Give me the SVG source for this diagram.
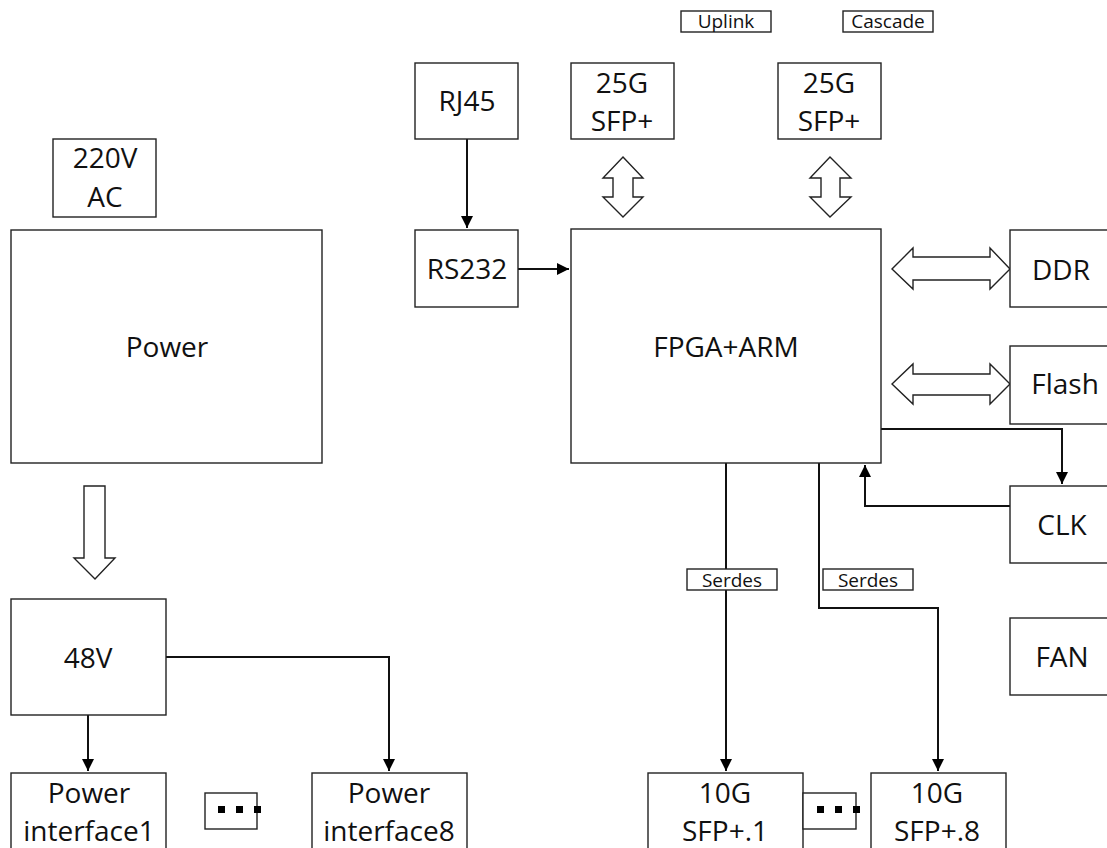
<svg xmlns="http://www.w3.org/2000/svg" width="1107" height="848" viewBox="0 0 1107 848">
<style>
.box{fill:#fff;stroke:#222;stroke-width:1.4}
.lbl{fill:#fff;stroke:#222;stroke-width:1.4}
.t{font-family:"Open Sans",Lato,sans-serif;font-size:28px;fill:#111;text-anchor:middle}
.s{font-family:"Open Sans",Lato,sans-serif;font-size:19px;fill:#111;text-anchor:middle}
.c{fill:none;stroke:#111;stroke-width:2}
.fat{fill:#fff;stroke:#222;stroke-width:1.4;stroke-linejoin:miter}
.dot{fill:#000}
</style>
<defs>
<marker id="ah" markerUnits="userSpaceOnUse" markerWidth="13" markerHeight="13" refX="12" refY="6" orient="auto">
<path d="M0,0 L12,6 L0,12 Z" fill="#000"/>
</marker>
</defs>

<g id="connectors">
<path class="c" d="M467,139 V228" marker-end="url(#ah)"/>
<path class="c" d="M518,269 H569" marker-end="url(#ah)"/>
<path class="c" d="M881,429 H1062 V484" marker-end="url(#ah)"/>
<path class="c" d="M1010,506 H865 V465" marker-end="url(#ah)"/>
<path class="c" d="M726,463 V771" marker-end="url(#ah)"/>
<path class="c" d="M819,463 V608 H938 V771" marker-end="url(#ah)"/>
<path class="c" d="M88,715 V771" marker-end="url(#ah)"/>
<path class="c" d="M166,657 H389 V771" marker-end="url(#ah)"/>
<polygon class="fat" points="623,157 643,178 633,178 633,197 643,197 623,217 603,197 613,197 613,178 603,178"/>
<polygon class="fat" points="830,157 851,178 840,178 840,197 851,197 830,217 810,197 821,197 821,178 810,178"/>
<polygon class="fat" points="892,269 913,248 913,257 990,257 990,248 1010,269 990,289 990,280 913,280 913,289"/>
<polygon class="fat" points="892,384 913,364 913,374 990,374 990,364 1010,384 990,404 990,395 913,395 913,404"/>
<polygon class="fat" points="84,486 105,486 105,558 115,558 95,579 74,558 84,558"/>
<g id="serdes1"><rect class="lbl" x="687" y="569" width="90" height="21"/><text class="s" x="732" y="587">Serdes</text></g>
<g id="serdes2"><rect class="lbl" x="823" y="569" width="90" height="21"/><text class="s" x="868" y="587">Serdes</text></g>
</g>

<g id="uplink"><rect class="lbl" x="681" y="11" width="90" height="21"/><text class="s" x="726" y="28">Uplink</text></g>
<g id="cascade"><rect class="lbl" x="843" y="11" width="90" height="21"/><text class="s" x="888" y="28">Cascade</text></g>

<g id="ac220"><rect class="box" x="53" y="139" width="103" height="78"/><text class="t" x="105" y="168">220V</text><text class="t" x="105" y="207">AC</text></g>
<g id="power"><rect class="box" x="11" y="230" width="311" height="233"/><text class="t" x="167" y="357">Power</text></g>
<g id="v48"><rect class="box" x="11" y="599" width="155" height="116"/><text class="t" x="88" y="668">48V</text></g>
<g id="pi1"><rect class="box" x="11" y="773" width="155" height="100"/><text class="t" x="89" y="803">Power</text><text class="t" x="89" y="841">interface1</text></g>
<g id="dots1"><rect class="box" x="205" y="793" width="52" height="36"/><rect class="dot" x="218" y="806" width="7" height="7"/><rect class="dot" x="236" y="806" width="7" height="7"/><rect class="dot" x="254" y="806" width="7" height="7"/></g>
<g id="pi8"><rect class="box" x="312" y="773" width="155" height="100"/><text class="t" x="389" y="803">Power</text><text class="t" x="389" y="841">interface8</text></g>

<g id="rj45"><rect class="box" x="415" y="63" width="103" height="76"/><text class="t" x="467" y="111">RJ45</text></g>
<g id="rs232"><rect class="box" x="415" y="230" width="103" height="77"/><text class="t" x="467" y="279">RS232</text></g>
<g id="sfp25a"><rect class="box" x="571" y="63" width="103" height="76"/><text class="t" x="622" y="93">25G</text><text class="t" x="622" y="131">SFP+</text></g>
<g id="sfp25b"><rect class="box" x="778" y="63" width="103" height="76"/><text class="t" x="829" y="93">25G</text><text class="t" x="829" y="131">SFP+</text></g>
<g id="fpga"><rect class="box" x="571" y="229" width="310" height="234"/><text class="t" x="726" y="357">FPGA+ARM</text></g>

<g id="ddr"><rect class="box" x="1010" y="230" width="110" height="77"/><text class="t" x="1061" y="280">DDR</text></g>
<g id="flash"><rect class="box" x="1010" y="346" width="110" height="78"/><text class="t" x="1065" y="394">Flash</text></g>
<g id="clk"><rect class="box" x="1010" y="486" width="110" height="77"/><text class="t" x="1062" y="535">CLK</text></g>
<g id="fan"><rect class="box" x="1010" y="618" width="110" height="77"/><text class="t" x="1062" y="667">FAN</text></g>

<g id="sfp10a"><rect class="box" x="648" y="773" width="155" height="100"/><text class="t" x="725" y="803">10G</text><text class="t" x="725" y="841">SFP+.1</text></g>
<g id="dots2"><rect class="box" x="803" y="793" width="53" height="36"/><rect class="dot" x="817" y="806" width="7" height="7"/><rect class="dot" x="835" y="806" width="7" height="7"/><rect class="dot" x="853" y="806" width="7" height="7"/></g>
<g id="sfp10b"><rect class="box" x="871" y="773" width="135" height="100"/><text class="t" x="937" y="803">10G</text><text class="t" x="937" y="841">SFP+.8</text></g>
</svg>
